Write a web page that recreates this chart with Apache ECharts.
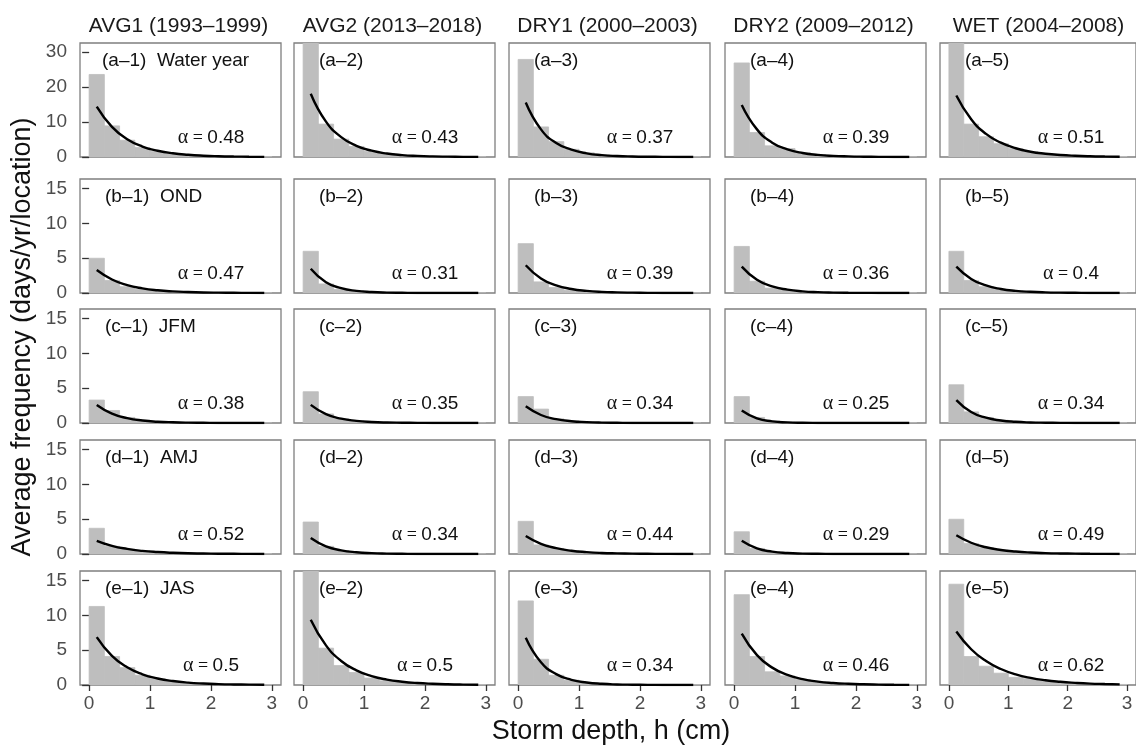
<!DOCTYPE html>
<html>
<head>
<meta charset="utf-8">
<title>Storm depth histograms</title>
<script src="https://cdn.jsdelivr.net/npm/echarts@6/dist/echarts.min.js"></script>
<style>
  html, body { margin: 0; padding: 0; background: #fff; }
  #chart { width: 1136px; height: 749px; }
</style>
</head>
<body>
<div id="chart"></div>
<script>
// column headers and row tags
var periods = ['AVG1 (1993–1999)', 'AVG2 (2013–2018)', 'DRY1 (2000–2003)', 'DRY2 (2009–2012)', 'WET (2004–2008)']
var rowTags = ['a', 'b', 'c', 'd', 'e']
var seasons = ['Water year', 'OND', 'JFM', 'AMJ', 'JAS']

// histogram bin edges (cm) and the bin midpoints where the fitted curve is drawn
var binEdges = [0, 0.25, 0.5, 0.75, 1, 1.25, 1.5, 1.75, 2, 2.25, 2.5, 2.75, 3]
var binMids = [0.125, 0.375, 0.625, 0.875, 1.125, 1.375, 1.625, 1.875, 2.125, 2.375, 2.625, 2.875]

// fitted alpha per panel (row a..e, column 1..5)
var alphaA = ['0.48', '0.43', '0.37', '0.39', '0.51']
var alphaB = ['0.47', '0.31', '0.39', '0.36', '0.4']
var alphaC = ['0.38', '0.35', '0.34', '0.25', '0.34']
var alphaD = ['0.52', '0.34', '0.44', '0.29', '0.49']
var alphaE = ['0.5', '0.5', '0.34', '0.46', '0.62']

// observed frequency per bin (days/yr/location)
var barsA = [
  [23.6, 8.9, 4.8, 2.7, 1.6, 0.9, 0.5, 0.3, 0.2, 0.1, 0.1, 0.05],
  [34, 9.4, 5.1, 3.0, 1.6, 0.9, 0.5, 0.3, 0.2, 0.1, 0.05, 0.05],
  [27.9, 8.6, 4.4, 2.2, 1.2, 0.6, 0.3, 0.2, 0.1, 0.05, 0.03, 0.02],
  [26.9, 7.0, 3.2, 2.4, 1.3, 0.7, 0.4, 0.2, 0.1, 0.05, 0.03, 0.02],
  [34, 9.4, 5.8, 3.8, 2.4, 1.5, 0.9, 0.6, 0.4, 0.2, 0.15, 0.1]
]
var barsB = [
  [5.0, 1.8, 0.9, 0.5, 0.3, 0.2, 0.1, 0.05, 0.03, 0.02, 0.01, 0.01],
  [6.0, 1.3, 0.5, 0.3, 0.15, 0.1, 0.05, 0.03, 0.02, 0.01, 0.01, 0],
  [7.1, 1.6, 0.8, 0.4, 0.2, 0.1, 0.05, 0.03, 0.02, 0.01, 0, 0],
  [6.7, 1.7, 0.7, 0.4, 0.2, 0.1, 0.05, 0.03, 0.02, 0.01, 0, 0],
  [6.0, 1.8, 0.9, 0.5, 0.3, 0.15, 0.1, 0.05, 0.03, 0.02, 0.01, 0]
]
var barsC = [
  [3.3, 1.8, 0.8, 0.4, 0.2, 0.1, 0.05, 0.03, 0.02, 0.01, 0, 0],
  [4.5, 1.3, 0.6, 0.3, 0.15, 0.07, 0.04, 0.02, 0.01, 0, 0, 0],
  [3.8, 2.0, 0.6, 0.3, 0.15, 0.07, 0.04, 0.02, 0.01, 0, 0, 0],
  [3.8, 0.8, 0.3, 0.1, 0.05, 0.02, 0.01, 0, 0, 0, 0, 0],
  [5.5, 1.6, 0.8, 0.4, 0.2, 0.1, 0.05, 0.03, 0.01, 0, 0, 0]
]
var barsD = [
  [3.7, 1.1, 0.7, 0.45, 0.3, 0.2, 0.1, 0.07, 0.04, 0.02, 0.01, 0.01],
  [4.6, 1.1, 0.5, 0.25, 0.12, 0.06, 0.03, 0.01, 0, 0, 0, 0],
  [4.7, 1.3, 0.8, 0.45, 0.25, 0.15, 0.08, 0.05, 0.02, 0.01, 0, 0],
  [3.2, 0.8, 0.3, 0.15, 0.06, 0.03, 0.01, 0, 0, 0, 0, 0],
  [5.0, 1.5, 0.9, 0.55, 0.35, 0.2, 0.12, 0.08, 0.05, 0.03, 0.02, 0.01]
]
var barsE = [
  [11.3, 4.1, 2.5, 1.4, 0.9, 0.5, 0.3, 0.2, 0.1, 0.07, 0.04, 0.02],
  [17, 5.3, 2.8, 1.8, 1.0, 0.6, 0.4, 0.25, 0.15, 0.1, 0.05, 0.03],
  [12.1, 3.7, 1.4, 0.7, 0.35, 0.17, 0.08, 0.04, 0.02, 0.01, 0, 0],
  [13.0, 4.1, 1.9, 1.3, 0.8, 0.45, 0.25, 0.15, 0.1, 0.05, 0.03, 0.02],
  [14.5, 4.1, 2.7, 1.7, 1.1, 0.9, 0.6, 0.4, 0.3, 0.2, 0.12, 0.08]
]

// fitted exponential curve read at the bin midpoints
var fitA = [
  [14.4, 8.6, 5.1, 3.0, 1.8, 1.06, 0.63, 0.37, 0.22, 0.13, 0.08, 0.05],
  [18.1, 10.1, 5.7, 3.2, 1.8, 0.99, 0.55, 0.31, 0.17, 0.10, 0.05, 0.03],
  [15.6, 7.9, 4.0, 2.1, 1.05, 0.53, 0.27, 0.14, 0.07, 0.04, 0.02, 0.01],
  [14.9, 7.9, 4.1, 2.2, 1.15, 0.61, 0.32, 0.17, 0.09, 0.05, 0.02, 0.01],
  [17.6, 10.8, 6.6, 4.1, 2.5, 1.5, 0.93, 0.57, 0.35, 0.21, 0.13, 0.08]
]
var fitB = [
  [3.3, 1.94, 1.14, 0.67, 0.39, 0.23, 0.14, 0.08, 0.05, 0.03, 0.02, 0.01],
  [3.5, 1.56, 0.70, 0.31, 0.14, 0.06, 0.03, 0.01, 0.01, 0, 0, 0],
  [4.0, 2.1, 1.1, 0.58, 0.31, 0.16, 0.09, 0.05, 0.02, 0.01, 0.01, 0],
  [3.8, 1.9, 0.95, 0.48, 0.24, 0.12, 0.06, 0.03, 0.02, 0.01, 0, 0],
  [3.8, 2.03, 1.09, 0.58, 0.31, 0.17, 0.09, 0.05, 0.03, 0.01, 0.01, 0]
]
var fitC = [
  [2.6, 1.35, 0.70, 0.36, 0.19, 0.10, 0.05, 0.03, 0.01, 0.01, 0, 0],
  [2.6, 1.27, 0.62, 0.31, 0.15, 0.07, 0.04, 0.02, 0.01, 0, 0, 0],
  [2.4, 1.15, 0.55, 0.26, 0.13, 0.06, 0.03, 0.01, 0.01, 0, 0, 0],
  [1.8, 0.66, 0.24, 0.09, 0.03, 0.01, 0, 0, 0, 0, 0, 0],
  [3.3, 1.58, 0.76, 0.36, 0.17, 0.08, 0.04, 0.02, 0.01, 0, 0, 0]
]
var fitD = [
  [1.9, 1.17, 0.73, 0.45, 0.28, 0.17, 0.10, 0.07, 0.04, 0.03, 0.02, 0.01],
  [2.3, 1.1, 0.53, 0.25, 0.12, 0.06, 0.03, 0.01, 0.01, 0, 0, 0],
  [2.6, 1.47, 0.84, 0.47, 0.27, 0.15, 0.09, 0.05, 0.03, 0.02, 0.01, 0.01],
  [1.9, 0.80, 0.34, 0.14, 0.06, 0.03, 0.01, 0, 0, 0, 0, 0],
  [2.7, 1.62, 0.97, 0.58, 0.35, 0.21, 0.13, 0.08, 0.05, 0.03, 0.02, 0.01]
]
var fitE = [
  [6.9, 4.19, 2.54, 1.54, 0.94, 0.57, 0.34, 0.21, 0.13, 0.08, 0.05, 0.03],
  [9.4, 5.7, 3.46, 2.1, 1.27, 0.77, 0.47, 0.28, 0.17, 0.10, 0.06, 0.04],
  [6.8, 3.26, 1.56, 0.75, 0.36, 0.17, 0.08, 0.04, 0.02, 0.01, 0, 0],
  [7.4, 4.3, 2.5, 1.45, 0.84, 0.49, 0.29, 0.17, 0.10, 0.06, 0.03, 0.02],
  [7.7, 5.14, 3.44, 2.3, 1.53, 1.02, 0.68, 0.46, 0.31, 0.20, 0.14, 0.09]
]

// axis ranges per row
var yMaxByRow = [32.6, 16.4, 16.4, 16.4, 16.4]
var yTicksByRow = [[0, 10, 20, 30], [0, 5, 10, 15], [0, 5, 10, 15], [0, 5, 10, 15], [0, 5, 10, 15]]
var xTicks = [0, 1, 2, 3]

var allBars = [barsA, barsB, barsC, barsD, barsE]
var allFits = [fitA, fitB, fitC, fitD, fitE]
var allAlpha = [alphaA, alphaB, alphaC, alphaD, alphaE]

// panel layout (px)
var colLeft = [80, 294, 509, 725, 940]
var rowTop = [43, 179, 309, 440, 571]
var panelW = 201
var panelH = 114

var sans = '"Liberation Sans", Arial, sans-serif'
var serif = '"Liberation Serif", "Times New Roman", serif'

var grids = [], xAxes = [], yAxes = [], series = [], graphics = []

// one histogram bin = rect from [lo, 0] to [hi, v]
function renderBin(params, api) {
  var p0 = api.coord([api.value(0), 0])
  var p1 = api.coord([api.value(1), api.value(2)])
  return {
    type: 'rect',
    shape: { x: p0[0], y: p1[1], width: p1[0] - p0[0], height: p0[1] - p1[1] },
    style: { fill: '#bebebe', stroke: '#bebebe', lineWidth: 0.8 }
  }
}

for (var r = 0; r < 5; r++) {
  for (var c = 0; c < 5; c++) {
    var idx = r * 5 + c
    grids.push({
      left: colLeft[c], top: rowTop[r], width: panelW, height: panelH,
      show: true, borderColor: '#7f7f7f', borderWidth: 1.3, backgroundColor: 'transparent'
    })
    xAxes.push({
      type: 'value', gridIndex: idx, min: -0.15, max: 3.15,
      axisLine: { show: false },
      splitLine: { show: false },
      axisTick: { show: r === 4, length: 6, lineStyle: { color: '#333', width: 1.3 }, customValues: xTicks },
      axisLabel: { show: r === 4, margin: 9, fontSize: 19, color: '#4d4d4d', fontFamily: sans, customValues: xTicks }
    })
    yAxes.push({
      type: 'value', gridIndex: idx, min: 0, max: yMaxByRow[r],
      axisLine: { show: false },
      splitLine: { show: false },
      axisTick: { show: c === 0, length: 7, lineStyle: { color: '#333', width: 1.3 }, customValues: yTicksByRow[r] },
      axisLabel: { show: c === 0, margin: 13, fontSize: 19, color: '#4d4d4d', fontFamily: sans, customValues: yTicksByRow[r] }
    })

    var binData = allBars[r][c].map(function (v, i) { return [binEdges[i], binEdges[i + 1], v] })
    series.push({
      type: 'custom', xAxisIndex: idx, yAxisIndex: idx,
      renderItem: renderBin, clip: true, silent: true,
      encode: { x: [0, 1], y: 2 },
      data: binData, z: 1
    })
    series.push({
      type: 'line', xAxisIndex: idx, yAxisIndex: idx,
      data: allFits[r][c].map(function (v, i) { return [binMids[i], v] }),
      showSymbol: false, smooth: true, silent: true,
      lineStyle: { color: '#000', width: 2.4 }, z: 3
    })

    // panel tag, e.g. "(a–1)  Water year"
    var tag = '(' + rowTags[r] + '–' + (c + 1) + ')' + (c === 0 ? '  ' + seasons[r] : '')
    graphics.push({
      type: 'text', x: colLeft[c] + (idx === 0 ? 22 : 25), y: rowTop[r] + 18, z: 10,
      style: { text: tag, fontSize: 19, fontFamily: sans, fill: '#111', align: 'left', verticalAlign: 'middle' }
    })
    // alpha label
    graphics.push({
      type: 'text', x: colLeft[c] + 131, y: rowTop[r] + panelH - 19, z: 10,
      style: {
        text: '{a|α}{e| = }{n|' + allAlpha[r][c] + '}',
        align: 'center', verticalAlign: 'middle',
        rich: {
          a: { fontSize: 20, fontFamily: serif, fill: '#111' },
          e: { fontSize: 18, fontFamily: serif, fill: '#111' },
          n: { fontSize: 19, fontFamily: sans, fill: '#111' }
        }
      }
    })
  }
}

// column titles
for (var k = 0; k < 5; k++) {
  graphics.push({
    type: 'text', x: colLeft[k] + panelW / 2 - 2, y: 26,
    style: { text: periods[k], fontSize: 21, fontFamily: sans, fill: '#1a1a1a', align: 'center', verticalAlign: 'middle' }
  })
}
// axis titles
graphics.push({
  type: 'text', x: 611, y: 732,
  style: { text: 'Storm depth, h (cm)', fontSize: 27, fontFamily: sans, fill: '#111', align: 'center', verticalAlign: 'middle' }
})
graphics.push({
  type: 'text', x: 23, y: 337, rotation: Math.PI / 2,
  style: { text: 'Average frequency (days/yr/location)', fontSize: 27, fontFamily: sans, fill: '#111', align: 'center', verticalAlign: 'middle' }
})

var myChart = echarts.init(document.getElementById('chart'))
myChart.setOption({
  backgroundColor: '#fff',
  animation: false,
  grid: grids,
  xAxis: xAxes,
  yAxis: yAxes,
  series: series,
  graphic: graphics
})
</script>
</body>
</html>
